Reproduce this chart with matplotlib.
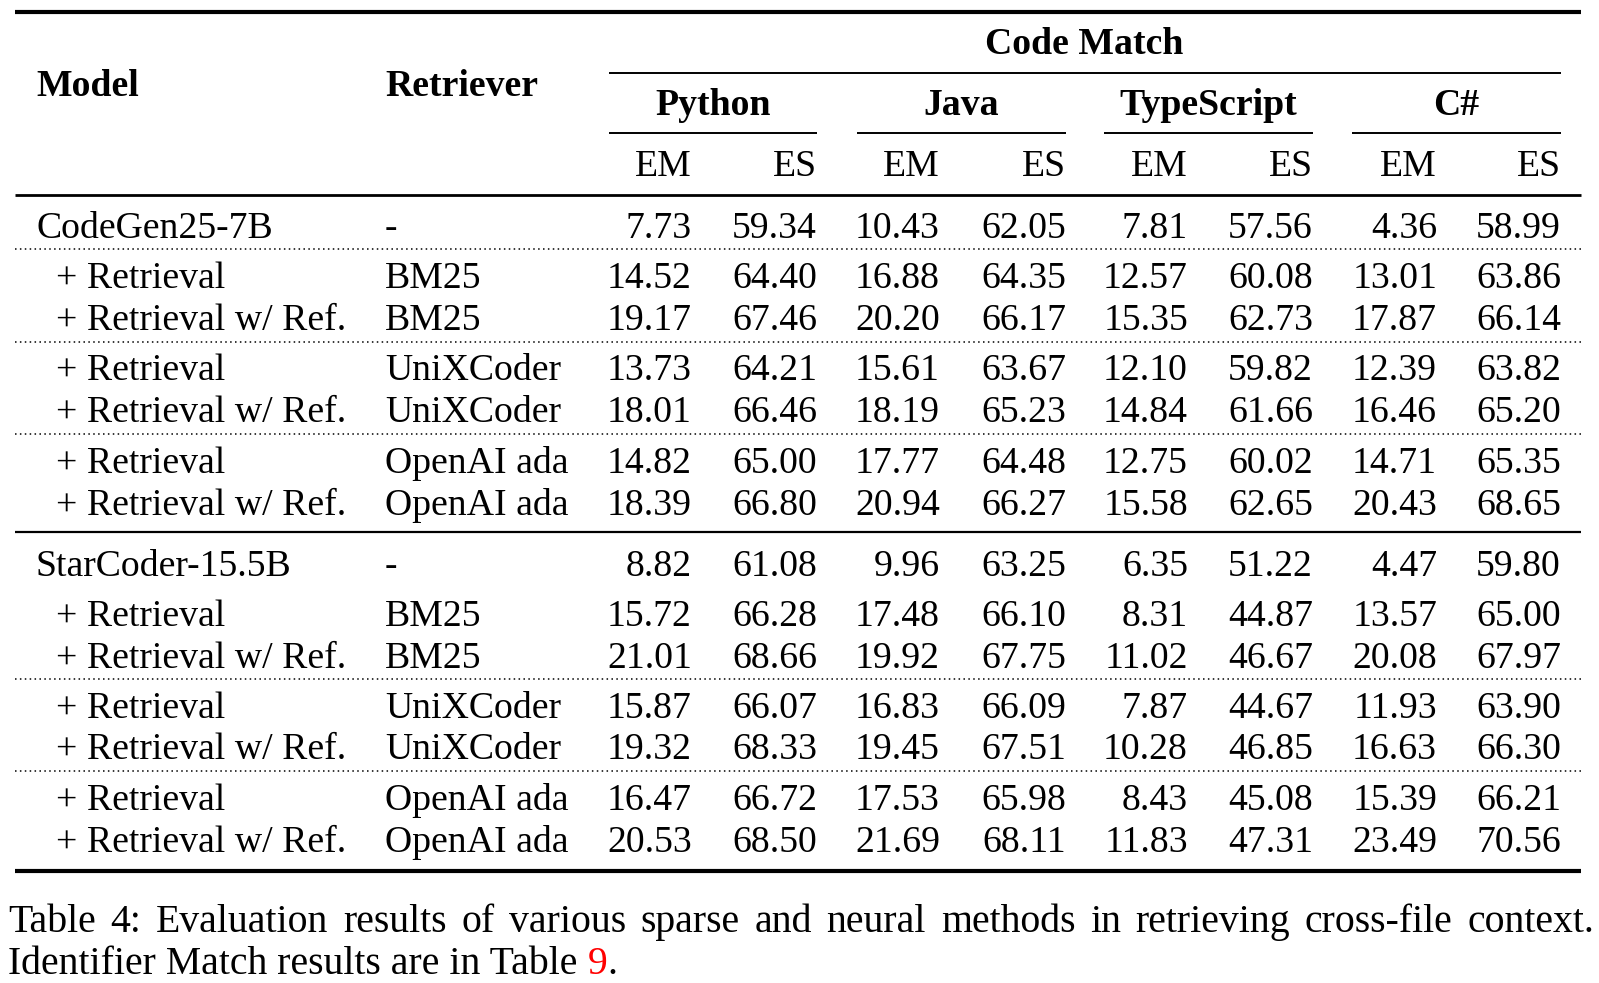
import matplotlib
matplotlib.use("Agg")
import matplotlib.pyplot as plt

# ----------------------------
# Table content
# ----------------------------
models = [
    "CodeGen25-7B", "+ Retrieval", "+ Retrieval w/ Ref.",
    "+ Retrieval", "+ Retrieval w/ Ref.", "+ Retrieval", "+ Retrieval w/ Ref.",
    "StarCoder-15.5B", "+ Retrieval", "+ Retrieval w/ Ref.",
    "+ Retrieval", "+ Retrieval w/ Ref.", "+ Retrieval", "+ Retrieval w/ Ref.",
]
retrievers = [
    "-", "BM25", "BM25", "UniXCoder", "UniXCoder", "OpenAI ada", "OpenAI ada",
    "-", "BM25", "BM25", "UniXCoder", "UniXCoder", "OpenAI ada", "OpenAI ada",
]
languages = ["Python", "Java", "TypeScript", "C#"]
metrics = ["EM", "ES"]

python_em = [7.73, 14.52, 19.17, 13.73, 18.01, 14.82, 18.39, 8.82, 15.72, 21.01, 15.87, 19.32, 16.47, 20.53]
python_es = [59.34, 64.40, 67.46, 64.21, 66.46, 65.00, 66.80, 61.08, 66.28, 68.66, 66.07, 68.33, 66.72, 68.50]
java_em = [10.43, 16.88, 20.20, 15.61, 18.19, 17.77, 20.94, 9.96, 17.48, 19.92, 16.83, 19.45, 17.53, 21.69]
java_es = [62.05, 64.35, 66.17, 63.67, 65.23, 64.48, 66.27, 63.25, 66.10, 67.75, 66.09, 67.51, 65.98, 68.11]
ts_em = [7.81, 12.57, 15.35, 12.10, 14.84, 12.75, 15.58, 6.35, 8.31, 11.02, 7.87, 10.28, 8.43, 11.83]
ts_es = [57.56, 60.08, 62.73, 59.82, 61.66, 60.02, 62.65, 51.22, 44.87, 46.67, 44.67, 46.85, 45.08, 47.31]
cs_em = [4.36, 13.01, 17.87, 12.39, 16.46, 14.71, 20.43, 4.47, 13.57, 20.08, 11.93, 16.63, 15.39, 23.49]
cs_es = [58.99, 63.86, 66.14, 63.82, 65.20, 65.35, 68.65, 59.80, 65.00, 67.97, 63.90, 66.30, 66.21, 70.56]

columns = [python_em, python_es, java_em, java_es, ts_em, ts_es, cs_em, cs_es]

caption_1 = "Table 4: Evaluation results of various sparse and neural methods in retrieving cross-file context."
caption_2 = "Identifier Match results are in Table "
caption_ref = "9"

# ----------------------------
# Layout (pixels)
# ----------------------------
W, H = 1599, 983
fs = 27.2
fs_cap = 28.6
font = "Liberation Serif"

col_right = [692, 817, 940, 1066, 1188, 1313, 1437, 1561]
group_span = [(609, 817), (857, 1066), (1104, 1313), (1352, 1561)]
row_base = [238, 288, 330, 380, 422, 473, 515, 576, 626, 668, 718, 759, 810, 852]

fig = plt.figure(figsize=(W / 100, H / 100), dpi=100)
ax = fig.add_axes([0, 0, 1, 1])
ax.set_xlim(0, W)
ax.set_ylim(H, 0)
ax.axis("off")


def txt(x, y, s, ha="left", bold=False, color="black", size=fs):
    return ax.text(x, y, s, ha=ha, va="baseline", fontsize=size, family=font,
                   fontweight="bold" if bold else "normal", color=color)


def rule(y, x0=15, x1=1581, lw=2.0, ls="-"):
    ax.plot([x0, x1], [y, y], color="black", lw=lw, ls=ls, solid_capstyle="butt")


# ----------------------------
# Header
# ----------------------------
rule(12, lw=3.0)
txt(1084, 54, "Code Match", ha="center", bold=True)
rule(73, 609, 1561, lw=1.4)
txt(36, 96, "Model", bold=True)
txt(385, 96, "Retriever", bold=True)
for (a, b), lang in zip(group_span, languages):
    txt((a + b) / 2, 115, lang, ha="center", bold=True)
    rule(133, a, b, lw=1.4)
for i, xr in enumerate(col_right):
    txt(xr, 176, metrics[i % 2], ha="right")
rule(195, lw=2.0)

# ----------------------------
# Body
# ----------------------------
for r, y in enumerate(row_base):
    x_model = 36 if models[r][0] != "+" else 56
    txt(x_model, y, models[r])
    txt(385, y, retrievers[r])
    for c, xr in enumerate(col_right):
        txt(xr, y, f"{columns[c][r]:.2f}", ha="right")

for y in [249, 342, 434, 679, 771]:
    rule(y, lw=1.1, ls=(0, (1, 2.2)))
rule(532, lw=1.6)
rule(871, lw=3.0)

# ----------------------------
# Caption (justified first line)
# ----------------------------
fig.canvas.draw()
renderer = fig.canvas.get_renderer()
words = caption_1.split(" ")
handles = [txt(0, 932, w, size=fs_cap) for w in words]
widths = [h.get_window_extent(renderer).width for h in handles]
x_left, x_right = 8, 1594
gap = (x_right - x_left - sum(widths)) / (len(words) - 1)
x = x_left
for h, w in zip(handles, widths):
    h.set_x(x)
    x += w + gap

t2 = txt(8, 974, caption_2, size=fs_cap)
w2 = t2.get_window_extent(renderer).width
t3 = txt(8 + w2, 974, caption_ref, color="red", size=fs_cap)
w3 = t3.get_window_extent(renderer).width
txt(8 + w2 + w3, 974, ".", size=fs_cap)

fig.savefig("out.png", dpi=100)
